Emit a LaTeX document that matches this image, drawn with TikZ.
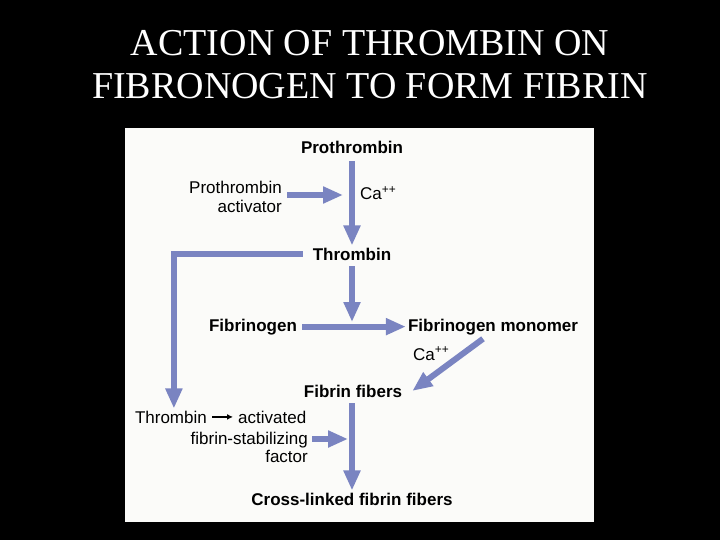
\documentclass[tikz,border=0pt]{standalone}
\usepackage{fontspec}
\setmainfont{Liberation Serif}
\setsansfont{Liberation Sans}
\usetikzlibrary{arrows.meta,positioning}
\definecolor{flowc}{HTML}{7A84C1}
\definecolor{panelbg}{HTML}{FBFBF9}
\tikzset{
  ar/.style={-{Triangle[length=20pt,width=16pt]},line width=6pt,flowc},
  thin/.style={-{Latex[length=6pt,width=6pt]},line width=1.4pt,black},
  lbl/.style={font=\sffamily\bfseries\fontsize{17}{19}\selectfont,inner sep=2pt},
  txt/.style={font=\sffamily\fontsize{17}{19}\selectfont,inner sep=2pt,align=right},
  ttl/.style={font=\fontsize{38}{40}\selectfont,white,inner sep=0pt}
}
\begin{document}
\begin{tikzpicture}[x=1pt,y=-1pt]
\fill[black] (0,0) rectangle (720,540);
\fill[panelbg] (125,128) rectangle (594,522);
% title
\node[ttl,anchor=base] (t1) at (370,56) {ACTION OF THROMBIN ON};
\node[ttl,anchor=base] (t2) at (370,99) {FIBRONOGEN TO FORM FIBRIN};
% main column
\node[lbl,anchor=base] (pro) at (352,154) {Prothrombin};
\node[lbl,anchor=base] (thr) at (352,260) {Thrombin};
\node[lbl,anchor=base] (fbg) at (253,331) {Fibrinogen};
\node[lbl,anchor=base] (fbm) at (493,331) {Fibrinogen monomer};
\node[lbl,anchor=base] (fib) at (353,397) {Fibrin fibers};
\node[lbl,anchor=base] (xl) at (352,505) {Cross-linked fibrin fibers};
% side texts
\node[txt,anchor=east] (pa) at (284,197) {Prothrombin\\activator};
\node[txt,anchor=base west] (ca1) at (358,200) {Ca\textsuperscript{++}};
\node[txt,anchor=base west] (ca2) at (411,360) {Ca\textsuperscript{++}};
\node[txt,anchor=base east] (thrl) at (209,423) {Thrombin};
\node[txt,anchor=base west] (act) at (236,423) {activated};
\node[txt,anchor=base east] (fsl) at (310,444) {fibrin-stabilizing};
\node[txt,anchor=base east] (fac) at (310,462) {factor};
\coordinate (j1) at (343,195);
\coordinate (j2) at (352,322);
\coordinate (j3) at (348,439);
% arrows
\draw[ar,shorten <=5pt] (pro.south) -- (thr.north);
\draw[ar,shorten <=3pt] (pa.east |- j1) -- (j1);
\draw[ar,shorten <=4pt] (thr.south) -- (j2);
\draw[ar,shorten <=3pt] (fbg.east) -- (fbm.west);
\draw[ar] ([xshift=-10pt,yshift=-2pt]fbm.south) -- ([xshift=8pt]fib.east);
\draw[ar,shorten <=4pt] (fib.south -| xl) -- (xl.north);
\draw[ar,shorten <=2pt] (fsl.east |- j3) -- (j3);
\draw[ar,shorten <=8pt] (thr.west) -| ([xshift=3pt]thrl.north);
\draw[thin,shorten <=3pt,shorten >=3pt] (thrl.east) -- (act.west);
\end{tikzpicture}
\end{document}
